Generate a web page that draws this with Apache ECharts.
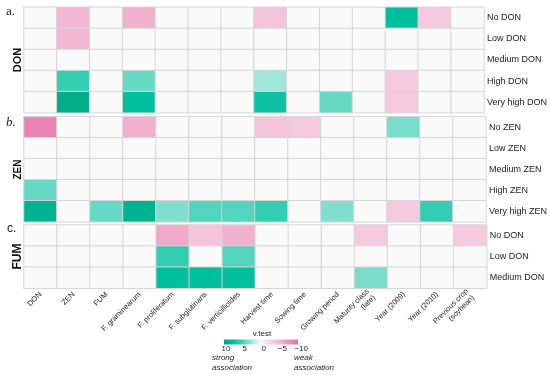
<!DOCTYPE html>
<html><head><meta charset="utf-8">
<script src="https://cdn.jsdelivr.net/npm/echarts@6/dist/echarts.min.js"></script>
<style>html,body{margin:0;padding:0;background:#fff}#c{width:550px;height:375px}</style>
</head><body><div id="c"></div>
<script>
const columns = ['DON','ZEN','FUM','F. graminearum','F. proliferatum','F. subglutinans','F. verticillioides','Harvest time','Sowing time','Growing period','Maturity class\n(late)','Year (2009)','Year (2010)','Previous crop\n(soybean)'];
const donRows = ['No DON','Low DON','Medium DON','High DON','Very high DON'];
const zenRows = ['No ZEN','Low ZEN','Medium ZEN','High ZEN','Very high ZEN'];
const fumRows = ['No DON','Low DON','Medium DON'];
const legendTicks = [10, 5, 0, -5, -10];

// v.test values (0 = no significant association)
const donNoDON      = [0,-5,0,-5.5,0,0,0,-4,0,0,0,7.5,-3.5,0];
const donLowDON     = [0,-5,0,0,0,0,0,0,0,0,0,0,0,0];
const donMediumDON  = [0,0,0,0,0,0,0,0,0,0,0,0,0,0];
const donHighDON    = [0,5.5,0,4,0,0,0,2.5,0,0,0,-3.5,0,0];
const donVHighDON   = [0,9,0,7.5,0,0,0,7,0,4,0,-3.5,0,0];

const zenNoZEN      = [-8.5,0,0,-5.5,0,0,0,-4,-3.5,0,0,3.5,0,0];
const zenLowZEN     = [0,0,0,0,0,0,0,0,0,0,0,0,0,0];
const zenMediumZEN  = [0,0,0,0,0,0,0,0,0,0,0,0,0,0];
const zenHighZEN    = [4,0,0,0,0,0,0,0,0,0,0,0,0,0];
const zenVHighZEN   = [8.5,0,4,8.5,3.3,4.5,4.5,5.5,0,3.3,0,-3.5,5.5,0];

const fumNoDON      = [0,0,0,0,-6,-4,-5.5,0,0,0,-3.5,0,0,-3.5];
const fumLowDON     = [0,0,0,0,5.5,0,4.5,0,0,0,0,0,0,0];
const fumMediumDON  = [0,0,0,0,7.5,7.5,7.5,0,0,0,3.5,0,0,0];

const donMatrix = [donNoDON, donLowDON, donMediumDON, donHighDON, donVHighDON];
const zenMatrix = [zenNoZEN, zenLowZEN, zenMediumZEN, zenHighZEN, zenVHighZEN];
const fumMatrix = [fumNoDON, fumLowDON, fumMediumDON];

function toCells(m){
  const out = [];
  m.forEach((row, r) => row.forEach((v, c) => out.push([c, r, v])));
  return out;
}

const FONT = '"Liberation Sans", Arial, Helvetica, sans-serif';
const SERIF = '"Liberation Serif", "Times New Roman", serif';
// colours from -10 to 10 in steps of 2.5
const colorStops = ['#e46fa4','#eb94bc','#f2b8d3','#f7d5e5','#fafafa','#a0e6da','#40d0b7','#00bf9f','#00a07a'];

const grids = [
  {left:24, top:7.3, width:462.7, height:105.4},
  {left:24, top:116.7, width:462.7, height:105.1},
  {left:24, top:225, width:462.7, height:63.3}
];
const rowsets = [donRows, zenRows, fumRows];

const xAxes = grids.map((g, i) => ({
  type:'category', gridIndex:i, data:columns,
  axisLine:{show:false}, axisTick:{show:false}, splitLine:{show:false},
  axisLabel:{show:i===2, rotate:45, interval:0, fontSize:7.5, color:'#222', fontFamily:FONT, margin:5, lineHeight:9}
}));
const yAxes = grids.map((g, i) => ({
  type:'category', gridIndex:i, data:rowsets[i], inverse:true, position:'right',
  axisLine:{show:false}, axisTick:{show:false}, splitLine:{show:false},
  axisLabel:{fontSize:9, color:'#222', fontFamily:FONT, margin:3}
}));

const series = [donMatrix, zenMatrix, fumMatrix].map((m, i) => ({
  type:'heatmap', xAxisIndex:i, yAxisIndex:i, data:toCells(m),
  itemStyle:{borderColor:'#d6d6d6', borderWidth:1},
  emphasis:{disabled:true}
}));

const legX0 = 224, legX1 = 298;
const gradStops = colorStops.slice().reverse().map((c, k, a) => ({offset:k/(a.length-1), color:c}));
const graphic = [
  {type:'text', left:6, top:5, style:{text:'a.', font:'13px '+SERIF, fill:'#222'}},
  {type:'text', left:6, top:116, style:{text:'b.', font:'italic 13px '+SERIF, fill:'#222'}},
  {type:'text', left:7, top:223, style:{text:'c.', font:'12px '+FONT, fill:'#222'}},
  {type:'text', x:18, y:60, rotation:Math.PI/2, style:{text:'DON', font:'bold 11px '+FONT, fill:'#111', align:'center', verticalAlign:'middle'}},
  {type:'text', x:18, y:169.5, rotation:Math.PI/2, style:{text:'ZEN', font:'bold 10px '+FONT, fill:'#111', align:'center', verticalAlign:'middle'}},
  {type:'text', x:17.5, y:256.5, rotation:Math.PI/2, style:{text:'FUM', font:'bold 12px '+FONT, fill:'#111', align:'center', verticalAlign:'middle'}},
  {type:'rect', shape:{x:legX0, y:339.5, width:legX1-legX0, height:5},
    style:{fill:new echarts.graphic.LinearGradient(0,0,1,0,gradStops)}},
  {type:'text', x:262, y:334, style:{text:'v.test', font:'8px '+FONT, fill:'#222', align:'center', verticalAlign:'middle'}}
];
legendTicks.forEach((t, k) => {
  graphic.push({type:'text', x:226 + k*18.8, y:349, style:{text:(t<0?'\u2212'+Math.abs(t):String(t)), font:'8px '+FONT, fill:'#222', align:'center', verticalAlign:'middle'}});
});
graphic.push(
  {type:'text', x:212, y:358, style:{text:'strong', font:'italic 8px '+FONT, fill:'#222', verticalAlign:'middle'}},
  {type:'text', x:212, y:367.5, style:{text:'association', font:'italic 8px '+FONT, fill:'#222', verticalAlign:'middle'}},
  {type:'text', x:294, y:358, style:{text:'weak', font:'italic 8px '+FONT, fill:'#222', verticalAlign:'middle'}},
  {type:'text', x:294, y:367.5, style:{text:'association', font:'italic 8px '+FONT, fill:'#222', verticalAlign:'middle'}}
);

const chart = echarts.init(document.getElementById('c'), null, {renderer:'canvas'});
chart.setOption({
  animation:false,
  backgroundColor:'#ffffff',
  grid:grids,
  xAxis:xAxes,
  yAxis:yAxes,
  visualMap:{show:false, type:'continuous', min:-10, max:10, seriesIndex:[0,1,2], inRange:{color:colorStops}},
  series:series,
  graphic:graphic
});
</script>
</body></html>
